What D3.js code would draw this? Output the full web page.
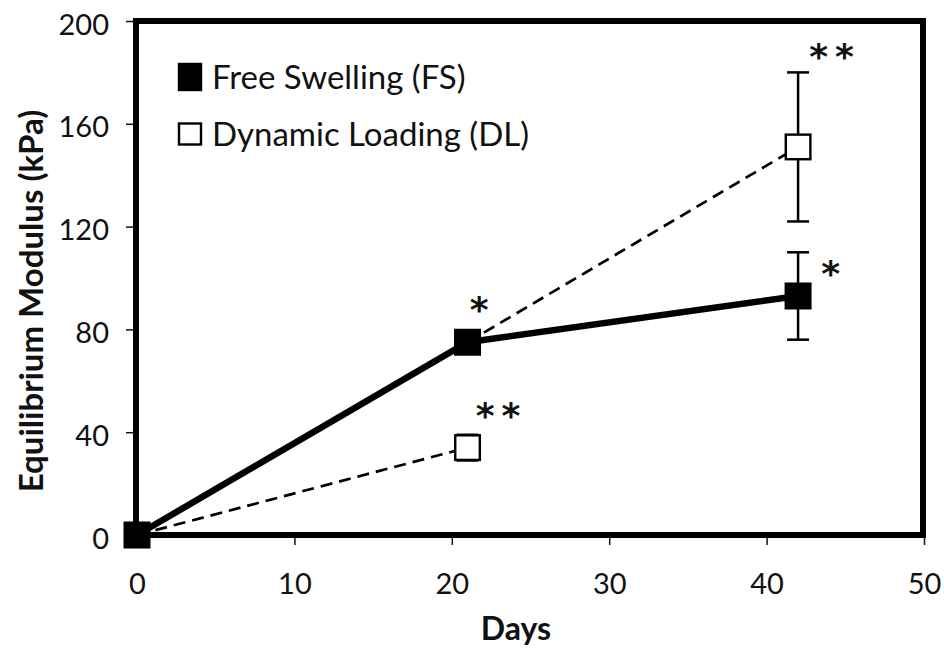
<!DOCTYPE html>
<html>
<head>
<meta charset="utf-8">
<script src="https://cdn.jsdelivr.net/npm/d3@7"></script>
<style>
  body { margin: 0; background: #fff; }
  text { font-family: Lato, "Open Sans", sans-serif; fill: #111; }
</style>
</head>
<body>
<div id="vis"></div>
<script>
// Data
const days = [0, 21, 42];
const fsValues = [0, 75, 93];
const fsErr = [0, 0, 17];
const dlValues = [0, 34, 151];
const dlErr = [0, 5, 29];
const xTicks = [0, 10, 20, 30, 40, 50];
const yTicks = [0, 40, 80, 120, 160, 200];
// significance marks: [day, value, label, dx, dy] (offset from the marker)
const marks = [
  [21, 75, "*", 15, -40],
  [42, 93, "*", 36, -30],
  [21, 34, "**", 34, -39],
  [42, 151, "**", 37, -98]
];

const W = 944, H = 651;
const margin = { top: 21, left: 137 };
const width = 787;
const height = 514;

const svg = d3.select('#vis').append('svg')
  .attr('width', W).attr('height', H);

const g = svg.append('g')
  .attr('transform', `translate(${margin.left},${margin.top})`);

const x = d3.scaleLinear().domain([0, 50]).range([0, width]);
const y = d3.scaleLinear().domain([0, 200]).range([height, 0]);

// axes
const xAxis = g.append('g').attr('transform', `translate(0,${height})`)
  .call(d3.axisBottom(x).tickValues(xTicks).tickSize(10).tickPadding(28));
const yAxis = g.append('g')
  .call(d3.axisLeft(y).tickValues(yTicks).tickSize(11).tickPadding(17));
[xAxis, yAxis].forEach(a => {
  a.select('.domain').remove();
  a.selectAll('line').attr('stroke', '#111').attr('stroke-width', 1.5);
  a.selectAll('text').style('font-size', '29px').attr('fill', '#111');
});
yAxis.selectAll('text').attr('dy', '0.45em');

// frame
g.append('rect')
  .attr('x', -1).attr('y', 0).attr('width', width).attr('height', height)
  .attr('fill', 'none').attr('stroke', '#000').attr('stroke-width', 6);

const fs = days.map((d, i) => ({ d, v: fsValues[i], e: fsErr[i] }));
const dl = days.map((d, i) => ({ d, v: dlValues[i], e: dlErr[i] }));

const line = d3.line().x(p => x(p.d)).y(p => y(p.v));

// error bars
function errorBars(data) {
  const eb = g.append('g').selectAll('g').data(data.filter(p => p.e > 0)).enter().append('g');
  eb.append('line')
    .attr('x1', p => x(p.d)).attr('x2', p => x(p.d))
    .attr('y1', p => y(p.v + p.e)).attr('y2', p => y(p.v - p.e))
    .attr('stroke', '#000').attr('stroke-width', 2.5);
  [1, -1].forEach(s => {
    eb.append('line')
      .attr('x1', p => x(p.d) - 11).attr('x2', p => x(p.d) + 11)
      .attr('y1', p => y(p.v + s * p.e)).attr('y2', p => y(p.v + s * p.e))
      .attr('stroke', '#000').attr('stroke-width', 2.5);
  });
}
errorBars(dl);
errorBars(fs);

// DL dashed lines: from day 0 to the day-21 DL group, and from the FS day-21 value onward
const dlSegments = [[dl[0], dl[1]], [fs[1], dl[2]]];
g.selectAll('.dlline').data(dlSegments).enter().append('path')
  .attr('d', line)
  .attr('fill', 'none').attr('stroke', '#000').attr('stroke-width', 2.7)
  .attr('stroke-dasharray', '12,7');
g.append('path').datum(fs).attr('d', line)
  .attr('fill', 'none').attr('stroke', '#000').attr('stroke-width', 6.5);

const S = 27;
g.selectAll('.dl').data(dl.slice(1)).enter().append('rect')
  .attr('x', p => x(p.d) - S / 2 + 1.2).attr('y', p => y(p.v) - S / 2 + 1.2)
  .attr('width', S - 2.4).attr('height', S - 2.4)
  .attr('fill', '#fff').attr('stroke', '#000').attr('stroke-width', 2.4);
g.selectAll('.fs').data(fs).enter().append('rect')
  .attr('x', p => x(p.d) - S / 2).attr('y', p => y(p.v) - S / 2)
  .attr('width', S).attr('height', S).attr('fill', '#000');

// significance marks
g.selectAll('.sig').data(marks).enter().append('text')
  .attr('x', m => x(m[0]) + m[3]).attr('y', m => y(m[1]) + m[4])
  .attr('text-anchor', 'middle').attr('dy', '0.55em')
  .style('font-family', '"DejaVu Sans", sans-serif').style('font-weight', 'bold')
  .style('font-size', '36px').style('letter-spacing', '7px')
  .text(m => m[2]);

// legend
const legend = [
  { label: 'Free Swelling (FS)', fill: '#000', h: 28 },
  { label: 'Dynamic Loading (DL)', fill: '#fff', h: 23 }
];
const lg = g.append('g').attr('transform', 'translate(41,42)');
const li = lg.selectAll('g').data(legend).enter().append('g')
  .attr('transform', (d, i) => `translate(0,${i * 57})`);
li.append('rect').attr('x', 1).attr('y', d => 14 - d.h / 2 + 1)
  .attr('width', 22).attr('height', d => d.h - 2)
  .attr('fill', d => d.fill).attr('stroke', '#000').attr('stroke-width', 2.4);
li.append('text').attr('x', 34).attr('y', 14).attr('dy', '0.36em')
  .style('font-size', '33px').text(d => d.label);

// axis titles
svg.append('text').attr('x', 516).attr('y', 640)
  .attr('text-anchor', 'middle').style('font-size', '32px').style('font-weight', 'bold')
  .text('Days');
svg.append('text')
  .attr('transform', 'translate(43,301) rotate(-90)')
  .attr('text-anchor', 'middle').style('font-size', '33px').style('font-weight', 'bold')
  .text('Equilibrium Modulus (kPa)');
</script>
</body>
</html>
